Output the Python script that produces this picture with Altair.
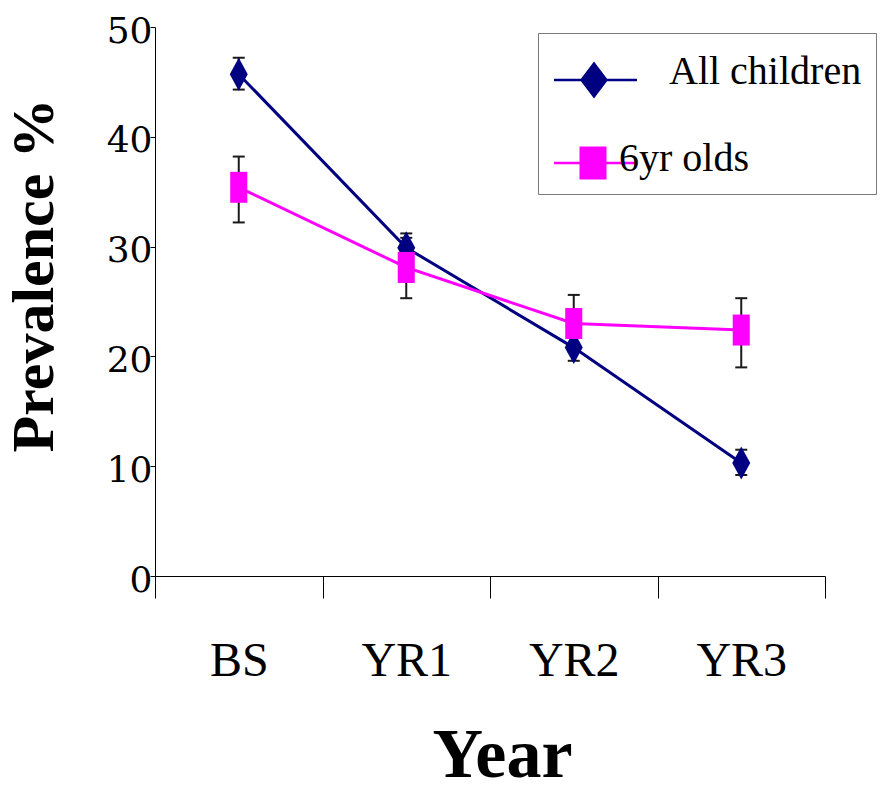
import altair as alt
import pandas as pd

years = ["BS", "YR1", "YR2", "YR3"]
series_names = ["All children", "6yr olds"]
all_vals = [45.7, 29.9, 20.8, 10.3]
all_low = [44.3, 28.7, 19.6, 9.2]
all_high = [47.2, 31.2, 22.0, 11.5]
six_vals = [35.4, 28.1, 23.0, 22.4]
six_low = [32.2, 25.3, 20.4, 19.0]
six_high = [38.2, 30.8, 25.6, 25.3]
colors = ["#000080", "#FF00FF"]

rows = []
for i, y in enumerate(years):
    rows.append({"year": y, "series": series_names[0], "value": all_vals[i], "low": all_low[i], "high": all_high[i]})
for i, y in enumerate(years):
    rows.append({"year": y, "series": series_names[1], "value": six_vals[i], "low": six_low[i], "high": six_high[i]})
df = pd.DataFrame(rows)

xaxis = alt.Axis(title="Year", labelFont="Liberation Serif", labelFontSize=48, labelColor="black",
                 labelAngle=0, labelPadding=39, tickSize=22, tickColor="black", domainColor="black",
                 tickBand="extent", titleFont="Liberation Serif", titleFontSize=70, titleFontWeight="bold",
                 titleColor="black", titleX=347, titleY=200, titleBaseline="alphabetic", titleAlign="center")
xenc = alt.X("year:N", sort=years, scale=alt.Scale(type="band", domain=years, paddingInner=0, paddingOuter=0),
             axis=xaxis)

yscale = alt.Scale(domain=[0, 50], nice=False, zero=True)
yaxis = alt.Axis(title="Prevalence %", values=[0, 10, 20, 30, 40, 50], labelFont="DejaVu Serif",
                 labelFontSize=36, labelColor="black", labelPadding=-2, labelOffset=4, tickSize=5,
                 tickColor="black", domainColor="black", grid=False, titleFont="Liberation Serif",
                 titleFontSize=60, titleFontWeight="bold", titleColor="black", titleX=-103, titleY=248,
                 titleAngle=270, titleBaseline="alphabetic", titleAlign="center")


def yenc(field):
    return alt.Y(f"{field}:Q", scale=yscale, axis=yaxis)


colscale = alt.Scale(domain=series_names, range=colors)

line_all = alt.Chart(df).transform_filter(alt.datum.series == series_names[0]).mark_line(
    strokeWidth=3, color=colors[0]).encode(x=xenc, y=yenc("value"))
line_six = alt.Chart(df).transform_filter(alt.datum.series == series_names[1]).mark_line(
    strokeWidth=3, color=colors[1]).encode(x=xenc, y=yenc("value"))

err_rule = alt.Chart(df).mark_rule(color="#1a1a1a", strokeWidth=2).encode(
    x=xenc, y=yenc("low"), y2="high:Q"
)
cap_low = alt.Chart(df).mark_tick(color="#1a1a1a", thickness=2, size=12, opacity=1).encode(x=xenc, y=yenc("low"))
cap_high = alt.Chart(df).mark_tick(color="#1a1a1a", thickness=2, size=12, opacity=1).encode(x=xenc, y=yenc("high"))

diamond_path = "M0,-1L0.545,0L0,1L-0.545,0Z"
square_path = "M-0.55,-1H0.55V1H-0.55Z"

pts_all = alt.Chart(df).transform_filter(alt.datum.series == series_names[0]).mark_point(
    shape=diamond_path, filled=True, size=1089, color=colors[0], opacity=1, strokeWidth=0
).encode(x=xenc, y=yenc("value"))
pts_six = alt.Chart(df).transform_filter(alt.datum.series == series_names[1]).mark_point(
    shape=square_path, filled=True, size=961, color=colors[1], opacity=1, strokeWidth=0
).encode(x=xenc, y=yenc("value"))

leg_diamond = "M-1.52,0.27H1.8V0.37H-1.52Z M0.08,-0.42L0.64,0.32L0.08,1.06L-0.48,0.32Z"
leg_square = "M-1.52,0.11H1.8V0.21H-1.52Z M-0.5,-0.5H0.58V0.82H-0.5Z"

NB = "\u00a0"
label_expr = ("datum.value == 'All children' ? '\u200b" + NB * 5 + "All children' : datum.label")

legend = alt.Legend(
    title=None, orient="none", legendX=383, legendY=6, strokeColor="#7a7a7a", fillColor="white",
    padding=14, rowPadding=35, symbolOffset=15, labelOffset=2, labelFont="Liberation Serif",
    labelFontSize=40, labelColor="black", labelLimit=500, symbolSize=2500, symbolStrokeWidth=0,
    symbolOpacity=1, labelExpr=label_expr,
)

leg_layer = alt.Chart(df).mark_point(filled=True, size=0, opacity=1).encode(
    x=xenc, y=yenc("value"),
    color=alt.Color("series:N", scale=colscale, legend=legend),
    shape=alt.Shape("series:N", scale=alt.Scale(domain=series_names, range=[leg_diamond, leg_square]),
                    legend=legend),
)

chart = alt.layer(line_all, line_six, err_rule, cap_low, cap_high, pts_all, pts_six, leg_layer).properties(
    width=670, height=549,
    autosize=alt.AutoSizeParams(type="none"),
    padding={"left": 147, "top": 19, "right": 52, "bottom": 202},
).configure(background="white").configure_view(stroke=None)

chart.save("out.html", embed_options={"renderer": "svg", "actions": False})
